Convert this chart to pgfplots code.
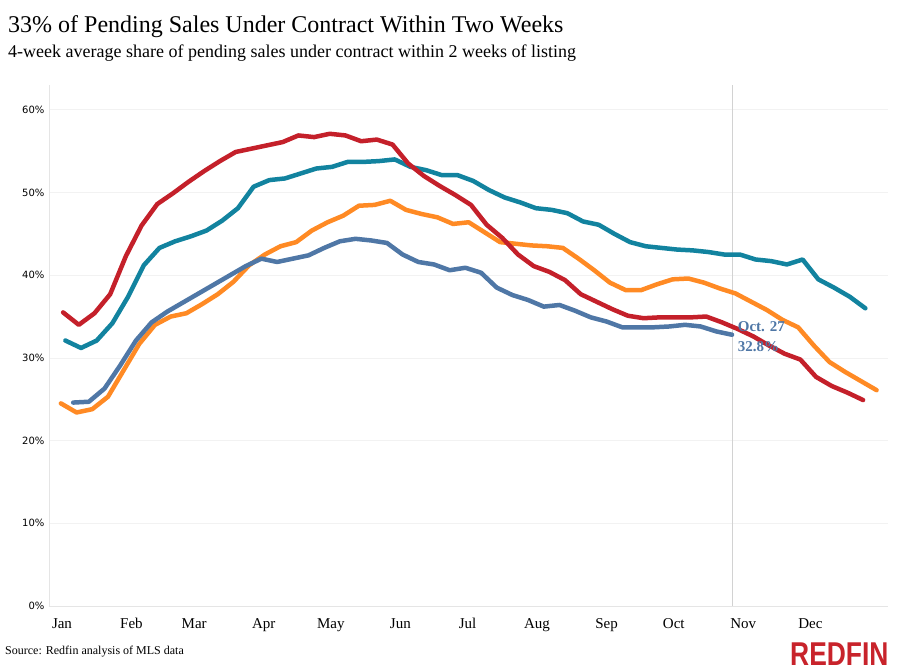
\documentclass[border=0pt]{standalone}
\usepackage{pgfplots}
\pgfplotsset{compat=1.18}
\usepackage{pgfplotstable}
\usepackage{graphicx}
\usepackage{fontspec}
\setmainfont{Liberation Serif}
\newfontfamily\yfont{DejaVu Sans}
\newfontfamily\logofont{Liberation Sans}
\definecolor{cred}{HTML}{C4202A}
\definecolor{cteal}{HTML}{12839F}
\definecolor{corange}{HTML}{FF8A24}
\definecolor{cblue}{HTML}{4F77A6}
\definecolor{gridc}{HTML}{F2F2F2}
\definecolor{vlinec}{HTML}{D2D2D2}
\definecolor{logored}{HTML}{C8232B}

\pgfplotstableread{
day val
0.5 35.5
7.5 34.0
14.5 35.4
21.5 37.7
28.5 42.3
35.5 46.0
42.5 48.6
49.5 49.9
56.5 51.3
63.5 52.6
70.5 53.8
77.5 54.9
84.5 55.3
91.5 55.7
98.5 56.1
105.5 56.9
112.5 56.7
119.5 57.1
126.5 56.9
133.5 56.2
140.5 56.4
147.5 55.8
154.5 53.5
161.5 52.0
168.5 50.8
175.5 49.7
182.5 48.5
189.5 46.1
196.5 44.5
203.5 42.5
210.5 41.1
217.5 40.4
224.5 39.4
231.5 37.7
238.5 36.8
245.5 35.9
252.5 35.1
259.5 34.8
266.5 34.9
273.5 34.9
280.5 34.9
287.5 35.0
294.5 34.3
301.5 33.5
308.5 32.6
315.5 31.5
322.5 30.5
329.5 29.8
336.5 27.7
343.5 26.6
350.5 25.8
357.5 24.9
}\redtab

\pgfplotstableread{
day val
1.5 32.1
8.5 31.2
15.5 32.1
22.5 34.2
29.5 37.4
36.5 41.2
43.5 43.3
50.5 44.1
57.5 44.7
64.5 45.4
71.5 46.6
78.5 48.1
85.5 50.7
92.5 51.5
99.5 51.7
106.5 52.3
113.5 52.9
120.5 53.1
127.5 53.7
134.5 53.7
141.5 53.8
148.5 54.0
155.5 53.1
162.5 52.7
169.5 52.1
176.5 52.1
183.5 51.4
190.5 50.3
197.5 49.4
204.5 48.8
211.5 48.1
218.5 47.9
225.5 47.5
232.5 46.5
239.5 46.1
246.5 45.0
253.5 44.0
260.5 43.5
267.5 43.3
274.5 43.1
281.5 43.0
288.5 42.8
295.5 42.5
302.5 42.5
309.5 41.9
316.5 41.7
323.5 41.3
330.5 41.9
337.5 39.5
344.5 38.5
351.5 37.4
358.5 36.0
}\tealtab

\pgfplotstableread{
day val
-0.5 24.5
6.5 23.4
13.5 23.8
20.5 25.3
27.5 28.5
34.5 31.7
41.5 34.0
48.5 35.0
55.5 35.4
62.5 36.5
69.5 37.7
76.5 39.2
83.5 41.2
90.5 42.5
97.5 43.5
104.5 44.0
111.5 45.4
118.5 46.4
125.5 47.2
132.5 48.4
139.5 48.5
146.5 49.0
153.5 47.9
160.5 47.4
167.5 47.0
174.5 46.2
181.5 46.4
188.5 45.2
195.5 44.0
202.5 43.8
209.5 43.6
216.5 43.5
223.5 43.3
230.5 42.0
237.5 40.6
244.5 39.1
251.5 38.2
258.5 38.2
265.5 38.9
272.5 39.5
279.5 39.6
286.5 39.1
293.5 38.4
300.5 37.8
307.5 36.8
314.5 35.8
321.5 34.6
328.5 33.7
335.5 31.5
342.5 29.5
349.5 28.3
356.5 27.2
363.5 26.1
}\orangetab

\pgfplotstableread{
day val
5 24.6
12 24.7
19 26.3
26 29.1
33 32.1
40 34.3
47 35.6
54 36.7
61 37.8
68 38.9
75 40.0
82 41.1
89 42.0
96 41.6
103 42.0
110 42.4
117 43.3
124 44.1
131 44.4
138 44.2
145 43.9
152 42.5
159 41.6
166 41.3
173 40.6
180 40.9
187 40.3
194 38.5
201 37.6
208 37.0
215 36.2
222 36.4
229 35.7
236 34.9
243 34.4
250 33.7
257 33.7
264 33.7
271 33.8
278 34.0
285 33.8
292 33.2
299 32.8
}\bluetab

\begin{document}
\begin{tikzpicture}
\useasboundingbox (-49pt,-66pt) rectangle (848pt,606pt);
\begin{axis}[
  at={(0pt,0pt)}, anchor=south west,
  scale only axis, width=839pt, height=521pt,
  xmin=-5.8, xmax=368.6, ymin=0, ymax=63,
  axis x line=bottom, axis y line=left,
  axis line style={-, draw=black!10, line width=0.8pt},
  major tick length=0pt,
  xtick={0,31,59,90,120,151,181,212,243,273,304,334},
  xticklabels={Jan,Feb,Mar,Apr,May,Jun,Jul,Aug,Sep,Oct,Nov,Dec},
  xticklabel style={font=\fontsize{15}{15}\selectfont, anchor=base, yshift=-22pt},
  ytick={0,10,20,30,40,50,60},
  yticklabels={0\%,10\%,20\%,30\%,40\%,50\%,60\%},
  yticklabel style={font=\yfont\fontsize{10}{10}\selectfont, anchor=east, xshift=-1pt},
  ymajorgrids,
  major grid style={draw=gridc, line width=0.8pt},
  every axis plot/.append style={line width=4.5pt, line join=round, line cap=round, no markers},
  clip=false,
]
\addplot[vlinec, line width=0.8pt, line cap=butt] coordinates {(299,0) (299,63)};
\addplot[cteal] table[x=day, y=val] {\tealtab};
\addplot[corange] table[x=day, y=val] {\orangetab};
\addplot[cred] table[x=day, y=val] {\redtab};
\addplot[cblue] table[x=day, y=val] {\bluetab};
\node[anchor=base west, inner sep=0, text=cblue, font=\bfseries\fontsize{15}{15}\selectfont] at (axis cs:301.5,33.2) {Oct. 27};
\node[anchor=base west, inner sep=0, text=cblue, font=\bfseries\fontsize{15}{15}\selectfont] at (axis cs:301.5,30.8) {32.8\%};
\end{axis}
\node[anchor=base west, inner sep=0, font=\fontsize{24}{24}\selectfont] at (-41pt,573pt) {33\% of Pending Sales Under Contract Within Two Weeks};
\node[anchor=base west, inner sep=0, font=\fontsize{18}{18}\selectfont] at (-41pt,548pt) {4-week average share of pending sales under contract within 2 weeks of listing};
\node[anchor=base west, inner sep=0, font=\fontsize{12}{12}\selectfont] at (-44pt,-48pt) {Source: Redfin analysis of MLS data};
\node[anchor=base west, inner sep=0, text=logored] at (741pt,-59pt) {\scalebox{0.8}[1]{\logofont\bfseries\fontsize{33}{33}\selectfont REDFIN}};
\end{tikzpicture}
\end{document}
